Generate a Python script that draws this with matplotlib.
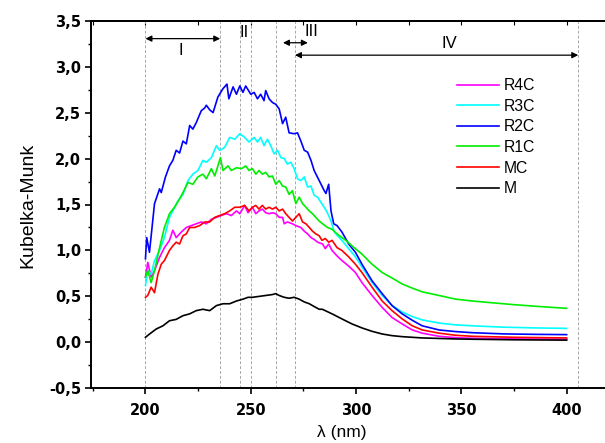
import matplotlib
matplotlib.use("Agg")
import matplotlib.pyplot as plt
from matplotlib.ticker import MultipleLocator, FuncFormatter

plt.rcParams['font.family'] = ['Liberation Sans', 'DejaVu Sans']

# Kubelka-Munk spectra
x_r2c = [200, 200.6, 201.9, 204.3, 206.7, 207.5, 209.5, 211.4, 213, 214.6, 216.2, 217.8, 219.4, 221, 222.5,
         224.1, 226.5, 228.1, 228.9, 230.5, 232.1, 234.4, 236.8, 238.7, 239.6, 241.6, 243.2, 244.8, 246.3,
         247.6, 250, 251.6, 253.2, 254.7, 256.3, 257.1, 258.7, 260.3, 261.9, 263.5, 265.1, 266.6, 268.2,
         270.6, 272.2, 273.8, 275.4, 277, 278.6, 280.1, 282.5, 284.9, 285.7, 287, 288.1, 289.4, 291, 293.3,
         296.5, 299.7, 302.8, 307.6, 312.4, 317.1, 321.9, 326.7, 331.4, 339.4, 347.3, 355.2, 370, 385, 400]
y_r2c = [0.91, 1.14, 0.98, 1.51, 1.67, 1.63, 1.80, 1.92, 1.98, 2.09, 2.06, 2.19, 2.16, 2.36, 2.32,
         2.39, 2.52, 2.55, 2.58, 2.53, 2.50, 2.67, 2.76, 2.81, 2.65, 2.78, 2.70, 2.79, 2.72,
         2.79, 2.70, 2.72, 2.65, 2.70, 2.63, 2.74, 2.65, 2.61, 2.59, 2.54, 2.38, 2.45, 2.28,
         2.27, 2.28, 2.19, 2.09, 2.07, 1.98, 1.87, 1.76, 1.65, 1.62, 1.72, 1.43, 1.29, 1.27, 1.20,
         1.07, 0.98, 0.85, 0.67, 0.53, 0.40, 0.31, 0.24, 0.18, 0.135, 0.117, 0.105, 0.092, 0.087, 0.084]

x_r3c = [200, 201.1, 202.7, 204.3, 206.7, 209, 211.4, 213, 215.4, 217.8, 220.2, 222.5, 224.9, 227.3,
         228.9, 231.3, 233.7, 235.2, 237.6, 240, 242.4, 244.8, 247.1, 249.2, 251.6, 253.2, 254.7, 256.3,
         257.9, 259.5, 261.1, 262.7, 264.3, 265.9, 267.4, 269, 270.6, 272.2, 273.8, 275.4, 277, 278.6,
         280.1, 281.7, 284, 286.2, 288.1, 289.7, 291.2, 293.3, 296.5, 299.7, 302.8, 307.6, 312.4, 317.1,
         321.9, 326.7, 331.4, 339.4, 347.3, 355.2, 370, 385, 400]
y_r3c = [0.62, 0.78, 0.74, 0.89, 1.00, 1.14, 1.36, 1.43, 1.54, 1.61, 1.76, 1.83, 1.87, 1.98,
         1.96, 2.01, 2.14, 2.09, 2.12, 2.23, 2.21, 2.27, 2.23, 2.18, 2.23, 2.18, 2.23, 2.14,
         2.21, 2.14, 2.05, 2.09, 2.01, 2.00, 1.94, 1.96, 1.89, 1.78, 1.76, 1.80, 1.69, 1.70,
         1.60, 1.58, 1.50, 1.42, 1.32, 1.20, 1.16, 1.11, 1.02, 0.93, 0.82, 0.65, 0.51, 0.40,
         0.33, 0.28, 0.244, 0.21, 0.19, 0.18, 0.165, 0.157, 0.152]

x_r1c = [200, 201.1, 202.7, 204.3, 206.7, 209, 211.4, 213.8, 216.2, 217.8, 220.2, 222.5, 224.9, 227.3,
         228.9, 231.3, 232.9, 234.4, 235.6, 236.8, 239.2, 240.8, 243.2, 245.6, 247.6, 249.2, 250.8, 252.4,
         253.9, 255.5, 257.1, 258.7, 260.3, 261.9, 263.5, 265.1, 266.6, 268.2, 269.8, 271.4, 273, 274.6,
         276.2, 277.8, 279.3, 280.9, 282.5, 284.1, 286.5, 288.6, 291, 293.3, 295.7, 298.1, 302.8, 307.6,
         312.4, 317.1, 321.9, 326.7, 331.4, 339.4, 347.3, 355.2, 365, 375, 387, 400]
y_r1c = [0.71, 0.78, 0.65, 0.78, 1.03, 1.25, 1.40, 1.47, 1.56, 1.63, 1.74, 1.72, 1.80, 1.83,
         1.78, 1.89, 1.81, 1.92, 2.01, 1.87, 1.92, 1.87, 1.90, 1.89, 1.92, 1.87, 1.89, 1.83,
         1.87, 1.83, 1.85, 1.80, 1.81, 1.72, 1.76, 1.70, 1.69, 1.61, 1.65, 1.51, 1.58, 1.51,
         1.47, 1.43, 1.40, 1.36, 1.32, 1.29, 1.25, 1.23, 1.18, 1.14, 1.10, 1.05, 0.96, 0.85,
         0.76, 0.70, 0.635, 0.59, 0.55, 0.51, 0.47, 0.45, 0.43, 0.41, 0.39, 0.37]

x_mc = [200, 201.1, 202.7, 204.3, 205.9, 207.5, 209, 211.4, 213, 214.6, 216.2, 217.8, 219.4, 221, 223.3,
        225.7, 228.1, 230.5, 232.9, 235.2, 237.6, 240, 242.4, 244.8, 247.1, 249.2, 250.8, 252.4, 253.9,
        255.5, 257.1, 258.7, 260.3, 261.9, 263.5, 265.1, 266.6, 268.2, 269.8, 271.4, 273, 274.6, 276.2,
        277.8, 279.3, 280.9, 282.5, 283.8, 285.4, 287, 288.6, 291, 293.3, 296.5, 299.7, 302.8, 307.6,
        312.4, 317.1, 321.9, 326.7, 331.4, 339.4, 347.3, 355.2, 375, 400]
y_mc = [0.49, 0.51, 0.60, 0.54, 0.74, 0.85, 0.89, 1.00, 1.05, 1.09, 1.07, 1.16, 1.18, 1.25, 1.25,
        1.27, 1.31, 1.31, 1.36, 1.38, 1.40, 1.43, 1.47, 1.47, 1.49, 1.43, 1.47, 1.49, 1.45,
        1.49, 1.45, 1.47, 1.45, 1.47, 1.43, 1.45, 1.40, 1.36, 1.32, 1.36, 1.40, 1.31, 1.29,
        1.25, 1.21, 1.18, 1.16, 1.11, 1.13, 1.09, 1.11, 1.03, 1.00, 0.93, 0.85, 0.76, 0.60,
        0.45, 0.345, 0.255, 0.18, 0.135, 0.10, 0.077, 0.066, 0.055, 0.048]

x_r4c = [200, 201.1, 202.7, 204.3, 206.7, 209, 211.4, 213, 214.6, 217, 219.4, 221.7, 224.1, 226.5,
         228.9, 231.3, 233.7, 236, 238.4, 240.8, 243.2, 244.8, 247.1, 248.7, 250.8, 252.4, 253.9, 255.5,
         257.1, 258.7, 260.3, 261.9, 263.5, 265.1, 265.9, 267.4, 269.8, 271.4, 273.8, 275.4, 277, 278.6,
         280.1, 281.7, 284.1, 285.4, 287, 288.6, 291, 293.3, 296.5, 299.7, 302.8, 307.6, 312.4, 317.1,
         321.9, 326.7, 331.4, 339.4, 347.3, 355.2, 375, 400]
y_r4c = [0.71, 0.87, 0.71, 0.78, 0.925, 1.03, 1.11, 1.22, 1.14, 1.20, 1.25, 1.27, 1.29, 1.31,
         1.29, 1.34, 1.36, 1.38, 1.40, 1.38, 1.43, 1.40, 1.49, 1.41, 1.47, 1.40, 1.43, 1.45,
         1.41, 1.40, 1.41, 1.40, 1.36, 1.36, 1.29, 1.31, 1.29, 1.27, 1.25, 1.21, 1.18, 1.14,
         1.12, 1.09, 1.07, 1.02, 1.07, 1.00, 0.94, 0.89, 0.83, 0.76, 0.65, 0.51, 0.38, 0.27,
         0.20, 0.135, 0.10, 0.066, 0.051, 0.044, 0.038, 0.034]

x_m = [200, 201.9, 205.1, 208.3, 211.4, 214.6, 217.8, 221, 224.1, 227.3, 230.5, 233.7, 236.8, 240,
       243.2, 246.3, 248.7, 250.8, 253.9, 257.1, 260.3, 261.9, 263.5, 265.9, 268.2, 270.6, 273, 275.4,
       277.8, 280.1, 282.5, 284, 288.6, 293.3, 298.1, 302.8, 307.6, 312.4, 317.1, 321.9, 331.4, 347.3,
       355.2, 375, 400]
y_m = [0.055, 0.09, 0.145, 0.18, 0.235, 0.25, 0.29, 0.31, 0.345, 0.36, 0.345, 0.40, 0.42, 0.42,
       0.45, 0.47, 0.49, 0.49, 0.50, 0.51, 0.52, 0.53, 0.51, 0.49, 0.48, 0.49, 0.47, 0.44,
       0.42, 0.39, 0.36, 0.36, 0.31, 0.255, 0.20, 0.157, 0.12, 0.091, 0.073, 0.062, 0.048, 0.037,
       0.034, 0.028, 0.024]

labels = ['R4C', 'R3C', 'R2C', 'R1C', 'MC', 'M']
colors = ['#ff00ff', '#00ffff', '#0000ff', '#00ee00', '#ff0000', '#000000']

# region boundaries (dashed) and region labels
bounds = [200, 235.5, 245, 250, 262, 271, 405.5]
regions = ['I', 'II', 'III', 'IV']

fig = plt.figure(figsize=(6.05, 4.43), dpi=100)
W, H = 605, 443
ax = fig.add_axes([90.7 / W, (H - 388.3) / H, 256 * 2.106 / W, 367.6 / H])

for b in bounds:
    ax.axvline(b, color='#a8a8a8', lw=0.7, ls=(0, (3, 2)), zorder=1)

series = [(x_r4c, y_r4c), (x_r3c, y_r3c), (x_r2c, y_r2c), (x_r1c, y_r1c), (x_mc, y_mc), (x_m, y_m)]
for (xs, ys), lab, c in zip(series, labels, colors):
    ax.plot(xs, ys, color=c, lw=1.2, label=lab, zorder=3)

ax.set_xlim(174, 430)
ax.set_ylim(-0.5, 3.5)

# arrows for the regions
def arrow(x0, x1, y):
    ax.annotate('', xy=(x0, y), xytext=(x1, y),
                arrowprops=dict(arrowstyle='<|-|>', color='black', lw=0.9,
                                mutation_scale=9, shrinkA=0, shrinkB=0))

arrow(200, 235.5, 3.305)
arrow(265.3, 277.1, 3.26)
arrow(271, 405.5, 3.125)
ax.text(216.6, 3.18, regions[0], ha='center', va='center', fontsize=12)
ax.text(246.9, 3.37, regions[1], ha='center', va='center', fontsize=12)
ax.text(279, 3.385, regions[2], ha='center', va='center', fontsize=12)
ax.text(344.2, 3.255, regions[3], ha='center', va='center', fontsize=12)

ax.xaxis.set_major_locator(MultipleLocator(50))
ax.xaxis.set_minor_locator(MultipleLocator(25))
ax.yaxis.set_major_locator(MultipleLocator(0.5))
ax.yaxis.set_minor_locator(MultipleLocator(0.25))
ax.yaxis.set_major_formatter(FuncFormatter(lambda v, p: f'{v:.1f}'.replace('.', ',')))
ax.tick_params(which='major', direction='out', length=4.5, width=1.2, labelsize=10.5)
ax.tick_params(axis='y', which='major', pad=2.5)
ax.tick_params(axis='x', which='major', pad=6)
ax.tick_params(which='minor', direction='out', length=2.5, width=1.0)
for t in ax.get_xticklabels() + ax.get_yticklabels():
    t.set_fontfamily('DejaVu Sans')
    t.set_fontweight('bold')

top = ax.secondary_xaxis('top')
top.xaxis.set_major_locator(MultipleLocator(25))
top.tick_params(direction='in', length=3, width=0.8, labeltop=False)
top.spines['top'].set_linewidth(1.4)

for s in ax.spines.values():
    s.set_linewidth(1.4)
ax.spines['right'].set_visible(False)

fig.text(342 / W, 1 - 432 / H, 'λ (nm)', ha='center', va='center', fontsize=12.5)
fig.text(28 / W, 1 - 205 / H, 'Kubelka-Munk', ha='center', va='center', rotation=90, fontsize=14)

ax.legend(loc='upper left', bbox_to_anchor=(457 / W, 1 - 78 / H), bbox_transform=fig.transFigure,
          frameon=False, fontsize=11.3, handlelength=2.7, handletextpad=0.3, labelspacing=0.36,
          borderpad=0, borderaxespad=0)

fig.savefig('out.png', dpi=100)
